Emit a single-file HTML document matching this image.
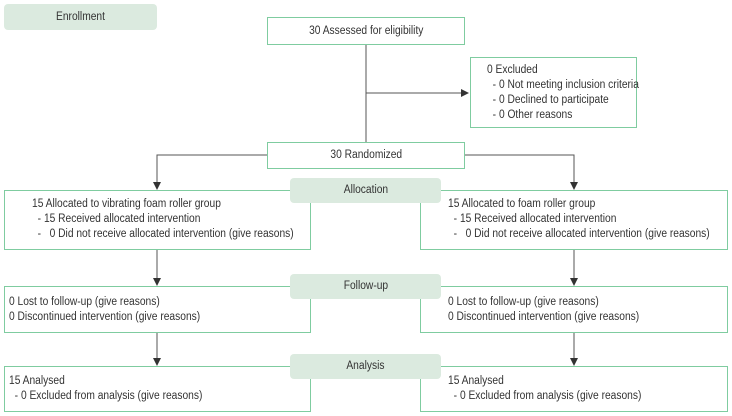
<!DOCTYPE html><html><head><style>
body{margin:0;width:732px;height:416px;background:#fff;position:relative;overflow:hidden;font-family:"Liberation Sans",sans-serif;font-size:11.5px;color:#333}
.b{position:absolute;border:1.3px solid #7fcca0;background:#fff;box-sizing:border-box}
.p{position:absolute;background:#dbeadf;border-radius:4px;text-align:center;box-sizing:border-box}
.c{text-align:center}
.t{position:absolute;line-height:15px;white-space:pre;transform:scaleX(0.89);transform-origin:left top}
.s{display:inline-block;transform:scaleX(0.89)}
</style></head><body>
<svg width="732" height="416" style="position:absolute;left:0;top:0">
<defs><marker id="a" markerWidth="8" markerHeight="8" refX="7" refY="4" orient="auto" markerUnits="userSpaceOnUse"><path d="M0,0L8,4L0,8z" fill="#333"/></marker></defs>
<g stroke="#555" stroke-width="1" fill="none">
<line x1="366" y1="44" x2="366" y2="142"/>
<line x1="366" y1="93" x2="468" y2="93" marker-end="url(#a)"/>
<polyline points="267,155 157,155 157,189" marker-end="url(#a)"/>
<polyline points="465,155 574,155 574,189" marker-end="url(#a)"/>
<line x1="157" y1="250" x2="157" y2="285" marker-end="url(#a)"/>
<line x1="574" y1="250" x2="574" y2="285" marker-end="url(#a)"/>
<line x1="157" y1="333" x2="157" y2="365" marker-end="url(#a)"/>
<line x1="574" y1="333" x2="574" y2="365" marker-end="url(#a)"/>
</g></svg>
<div class="p" style="left:4px;top:4px;width:153px;height:26px;line-height:26px"><span class="s">Enrollment</span></div>
<div class="b c" style="left:267px;top:17px;width:198px;height:28px;line-height:26px"><span class="s">30 Assessed for eligibility</span></div>
<div class="b" style="left:470px;top:57px;width:167px;height:71px"><div class="t" style="left:16px;top:5px">0 Excluded
  - 0 Not meeting inclusion criteria
  - 0 Declined to participate
  - 0 Other reasons</div></div>
<div class="b c" style="left:267px;top:142px;width:198px;height:27px;line-height:25px"><span class="s">30 Randomized</span></div>
<div class="b" style="left:4px;top:190px;width:307px;height:60px"><div class="t" style="left:27px;top:6px">15 Allocated to vibrating foam roller group
  - 15 Received allocated intervention
  -   0 Did not receive allocated intervention (give reasons)</div></div>
<div class="b" style="left:420px;top:190px;width:308px;height:60px"><div class="t" style="left:27px;top:6px">15 Allocated to foam roller group
  - 15 Received allocated intervention
  -   0 Did not receive allocated intervention (give reasons)</div></div>
<div class="p" style="left:290px;top:178px;width:151px;height:25px;line-height:25px"><span class="s">Allocation</span></div>
<div class="b" style="left:4px;top:286px;width:307px;height:47px"><div class="t" style="left:4px;top:8px">0 Lost to follow-up (give reasons)
0 Discontinued intervention (give reasons)</div></div>
<div class="b" style="left:420px;top:286px;width:308px;height:47px"><div class="t" style="left:27px;top:8px">0 Lost to follow-up (give reasons)
0 Discontinued intervention (give reasons)</div></div>
<div class="p" style="left:290px;top:274px;width:151px;height:25px;line-height:25px"><span class="s">Follow-up</span></div>
<div class="b" style="left:4px;top:366px;width:307px;height:46px"><div class="t" style="left:4px;top:7px">15 Analysed
  - 0 Excluded from analysis (give reasons)</div></div>
<div class="b" style="left:420px;top:366px;width:308px;height:46px"><div class="t" style="left:27px;top:7px">15 Analysed
  - 0 Excluded from analysis (give reasons)</div></div>
<div class="p" style="left:290px;top:354px;width:151px;height:25px;line-height:25px"><span class="s">Analysis</span></div>
</body></html>
